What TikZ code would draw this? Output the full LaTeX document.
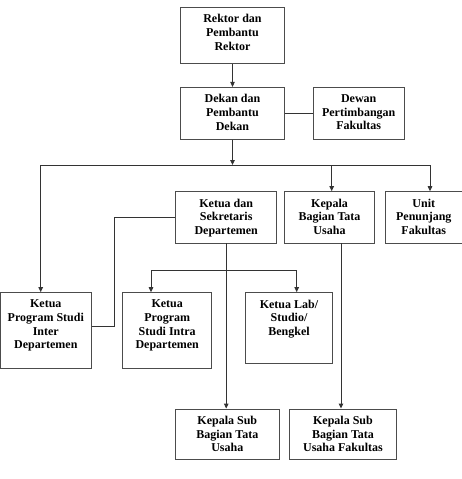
\documentclass[tikz,border=0pt]{standalone}
\usepackage{fontspec}
\setmainfont{Liberation Serif}
\usetikzlibrary{arrows.meta}
\begin{document}
\begin{tikzpicture}[x=1pt,y=-1pt,
  box/.style={draw=black!70, line width=0.9pt, rectangle, inner sep=0pt},
  txt/.style={inner sep=0pt, align=center, font=\fontsize{12}{13.8}\selectfont\bfseries, anchor=north},
  ln/.style={draw=black!80, line width=0.9pt},
  arr/.style={ln, -{Triangle[length=5pt,width=4.5pt]}}]
\useasboundingbox (0,0) rectangle (462,479);
% boxes
\node[box, minimum width=103.6pt, minimum height=56pt] (rektor) at (232.5,35.3) {};
\node[txt] (rektort) at ([yshift=-7.3pt]rektor.north) {Rektor dan\\Pembantu\\Rektor};
\node[box, minimum width=103.6pt, minimum height=51.7pt] (dekan) at (232.5,113.2) {};
\node[txt] (dekant) at ([yshift=-7.3pt]dekan.north) {Dekan dan\\Pembantu\\Dekan};
\node[box, minimum width=90.7pt, minimum height=51.7pt] (dewan) at (358.7,113.2) {};
\node[txt] (dewant) at ([yshift=-7.3pt]dewan.north) {Dewan\\Pertimbangan\\Fakultas};
\node[box, minimum width=101pt, minimum height=51.3pt] (ketua) at (226.2,217.3) {};
\node[txt] (ketuat) at ([yshift=-7.3pt]ketua.north) {Ketua dan\\Sekretaris\\Departemen};
\node[box, minimum width=90.4pt, minimum height=51.3pt] (kabag) at (329.5,217.3) {};
\node[txt] (kabagt) at ([yshift=-7.3pt]kabag.north) {Kepala\\Bagian Tata\\Usaha};
\node[box, minimum width=76.3pt, minimum height=51.3pt] (unit) at (423.8,217.3) {};
\node[txt] (unitt) at ([yshift=-7.3pt]unit.north) {Unit\\Penunjang\\Fakultas};
\node[box, minimum width=91.7pt, minimum height=75.3pt] (inter) at (45.8,330.3) {};
\node[txt] (intert) at ([yshift=-7.3pt]inter.north) {Ketua\\Program Studi\\Inter\\Departemen};
\node[box, minimum width=89pt, minimum height=75.3pt] (intra) at (167.2,330.3) {};
\node[txt] (intrat) at ([yshift=-7.3pt]intra.north) {Ketua\\Program\\Studi Intra\\Departemen};
\node[box, minimum width=86.6pt, minimum height=70.3pt] (lab) at (289,327.8) {};
\node[txt] (labt) at ([yshift=-7.3pt]lab.north) {Ketua Lab/\\Studio/\\Bengkel};
\node[box, minimum width=103.3pt, minimum height=50pt] (subtu) at (227.3,434) {};
\node[txt] (subtut) at ([yshift=-7.3pt]subtu.north) {Kepala Sub\\Bagian Tata\\Usaha};
\node[box, minimum width=107.3pt, minimum height=50pt] (subtuf) at (343,434) {};
\node[txt] (subtuft) at ([yshift=-7.3pt]subtuf.north) {Kepala Sub\\Bagian Tata\\Usaha Fakultas};
% coordinates
\coordinate (bus) at (232.5,165);
\coordinate (busL) at (40.7,165);
\coordinate (busM) at (331.7,165);
\coordinate (busR) at (430,165);
\coordinate (brL) at (151,270);
\coordinate (brR) at (296.7,270);
\coordinate (jx) at (114.3,326);
\coordinate (kx) at (341,0);
% connectors
\draw[arr] (rektor.south) -- (dekan.north);
\draw[ln] (dekan.east) -- (dewan.west);
\draw[arr] (dekan.south) -- (bus);
\draw[ln] (busL) -- (busR);
\draw[arr] (busL) -- (busL |- inter.north);
\draw[arr] (busM) -- (busM |- kabag.north);
\draw[arr] (busR) -- (busR |- unit.north);
\draw[ln] (ketua.west) -| (jx) -- (inter.east |- jx);
\draw[arr] (ketua.south) -- (ketua.south |- subtu.north);
\draw[ln] (brL) -- (brR);
\draw[arr] (brL) -- (brL |- intra.north);
\draw[arr] (brR) -- (brR |- lab.north);
\draw[arr] (kabag.south -| kx) -- (subtuf.north -| kx);
\end{tikzpicture}
\end{document}
